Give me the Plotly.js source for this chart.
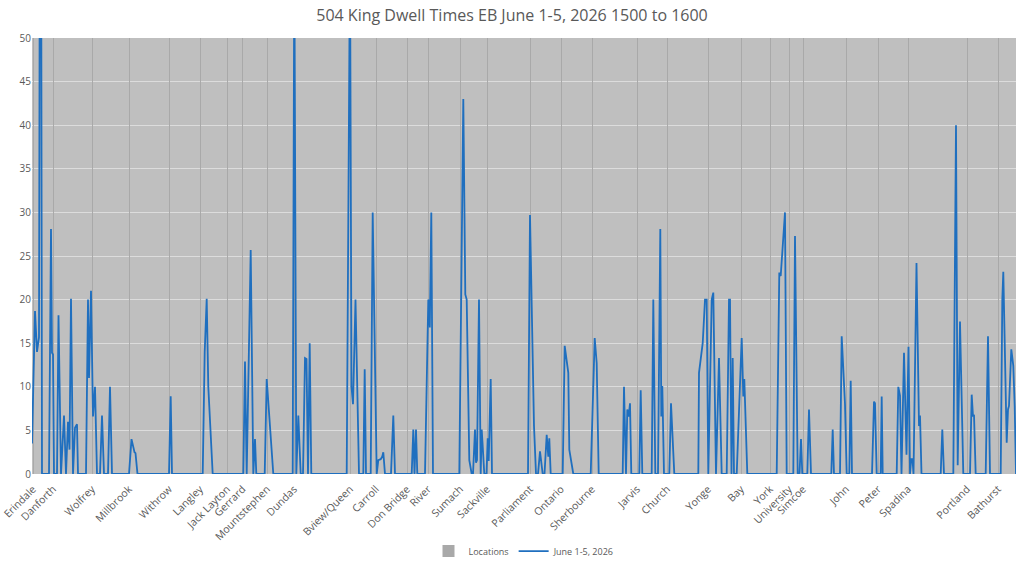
<!DOCTYPE html>
<html>
<head>
<meta charset="utf-8">
<script src="https://cdn.plot.ly/plotly-3.0.1.min.js"></script>
<style>html,body{margin:0;padding:0;background:#fff;}#chart{width:1024px;height:564px;}</style>
</head>
<body>
<div id="chart"></div>
<script>
// Stop locations (sample position along route) and names
const locNames = ["Erindale","Danforth","Wolfrey","Millbrook","Withrow","Langley","Jack Layton","Gerrard","Mountstephen","Dundas","Bview/Queen","Carroll","Don Bridge","River","Sumach","Sackville","Parliament","Ontario","Sherbourne","Jarvis","Church","Yonge","Bay","York","University","Simcoe","John","Peter","Spadina","Portland","Bathurst"];
const locPos = [1,21,60,97,137,168,195,210.5,235,262,318,344,375,396,428,455,498,529,560,605,635,676,709,738,757,771,814,846,876,935,966];
const locHeight = [50,50,50,50,50,50,50,50,50,50,50,50,50,50,50,50,50,50,50,50,50,50,50,50,50,50,50,50,50,50,50];

// Dwell time series (sample position, seconds)
const stopPos = [0,3,5,7,8,9,10,17,19,20,21,22,25,26.5,29,32,34,36,37.5,39,41,43,45,46,54,56,57,59,61,63,65,68,70,72,76,78,80,
97,99.5,101,102.5,103.5,105.5,137,138.7,140,170.7,172.7,174.7,176.3,180.7,
211.3,213,214.7,218.7,221.3,223,224.3,232.7,234.7,241.3,
260.7,262.3,264.3,266.3,268.7,271,273,274.5,276,277.7,279.3,
314.7,318,319.5,321,323.5,327,331.3,332.7,334,
338.7,340.7,344.7,346.3,348.7,350.3,351.3,353,359,361.3,363,
379.7,381.3,382.5,384,385.3,393,396.3,397.8,399.3,401,
427.3,431.3,433.3,434.7,437.3,439.7,441,443,444,445,447,448.7,449.7,450.7,452.3,454.5,455.7,456.7,458.7,460,
496,498,502,504,506,508,510.7,512.5,514.7,516.3,517.3,518.7,
530.7,532.7,536.3,537.3,541.3,558.7,562.7,564.7,566.7,
590.7,592,594,595.3,596.7,598,599.3,607.3,608.7,610.3,
619.7,621.3,623.3,626,628.3,629.3,630.3,632,637.3,639,642.3,
666.3,667,670.7,673,674.7,676.3,679.7,681.3,684,687,689.7,
694.7,697,698,699.5,700.7,702,704.7,709.7,711.3,712.3,715.3,
744.7,747.3,748.7,753,754.7,761.3,763,765.7,767.5,769,770.3,775.3,777,779,
799.3,800.7,802,808,809.7,813,814.7,817.3,818.7,820,
840,842,843,844.7,848.7,849.7,850.7,
864.7,866.3,868,869.5,872,874.5,876.5,878,879.2,880.5,881.5,884.5,887,888,889.5,
908.7,910.3,912,921.3,924,925.7,928,931.3,938,939.7,941,942,943.7,953.7,956,958,
968.7,970.3,971.3,974.7,976,977,979.3,981.3,982.7,984];
const dwellSec = [3.5,18.7,14,15.7,75,75,0,0,28.1,13.9,13.7,0,0,18.2,0,6.7,0,6.0,2.8,20.1,0,5.3,5.7,0,0,20,11,21,6.6,10,0,0,6.7,0,0,10,0,
0,4,3,2.5,2.4,0,0,8.9,0,0,14,20.1,10,0,
0,12.9,0,25.7,0,4.0,0,0,10.9,0,
0,60,0,6.7,0,0,13.3,13.2,0,15,0,
0,60,10,8,20,0,0,12,0,
0,30,0,1.6,1.7,2.0,2.5,0,0,6.7,0,
0,5.1,0,5.1,0,0,20,16.8,30,0,
0,43,20.6,20,1.6,0,0,5.1,1.3,1.6,20,0,5.1,3.2,0,0,4.1,1.5,10.9,0,
0,29.7,5.5,0,0,2.6,0,0,4.5,2.0,4.1,0,
0,14.7,11.6,2.8,0,0,15.6,12.7,0,
0,10,0,7.4,6.6,8.1,0,0,9.6,0,
0,20,0,0,28.1,6.6,10.1,0,0,8.1,0,
0,11.6,15,20,20,0,20,20.8,0,13.3,0,
0,20,20,0,13.3,0,0,15.6,8.9,10.9,0,
0,23.1,22.7,30,0,0,27.3,0,0,4.0,0,0,7.4,0,
0,5.1,0,0,15.8,8,0,0,10.7,0,
0,8.3,8.1,0,0,8.9,0,
0,10,9,0,13.9,2.2,14.6,0,1.7,1.7,0,24.2,5.5,6.7,0,
0,5.1,0,0,40,1,17.5,0,0,9.1,6.6,6.8,0,0,15.8,0,
0,20,23.2,3.6,7.4,7.8,14.3,12.4,7.8,0];

const txt = '#595959';
const traces = [
  {type:'bar', name:'Locations', x:locPos, y:locHeight, width:1,
   marker:{color:'#a9a9a9', line:{width:0}}, hoverinfo:'skip'},
  {type:'scatter', mode:'lines', name:'June 1-5, 2026', x:stopPos, y:dwellSec,
   line:{color:'#1f6fbf', width:1.8}}
];
const layout = {
  width:1024, height:564,
  margin:{l:32, r:8, t:38, b:90},
  paper_bgcolor:'#ffffff', plot_bgcolor:'#bfbfbf',
  font:{family:'Open Sans, Liberation Sans, sans-serif', color:txt, size:10},
  title:{text:'504 King Dwell Times EB June 1-5, 2026 1500 to 1600', x:0.5, xanchor:'center', y:0.972, yanchor:'middle',
         font:{size:16, color:txt, family:'Open Sans, sans-serif'}},
  xaxis:{range:[0,984], tickvals:locPos, ticktext:locNames, tickangle:-45, showgrid:false, zeroline:false,
         showline:false, ticks:'', ticklabelstandoff:6, tickfont:{size:10.5, color:txt}, automargin:false, fixedrange:true},
  yaxis:{range:[0,50], dtick:5, showgrid:true, gridcolor:'#dcdcdc', gridwidth:1, zeroline:false, showline:false,
         ticks:'', tickfont:{size:10, color:txt}, automargin:false, fixedrange:true},
  showlegend:true,
  legend:{orientation:'h', x:0.5, xanchor:'center', yref:'container', y:0.023, yanchor:'middle', font:{size:9, color:txt}, traceorder:'normal'},
  bargap:0
};
Plotly.newPlot('chart', traces, layout, {displayModeBar:false, staticPlot:true});
</script>
</body>
</html>
